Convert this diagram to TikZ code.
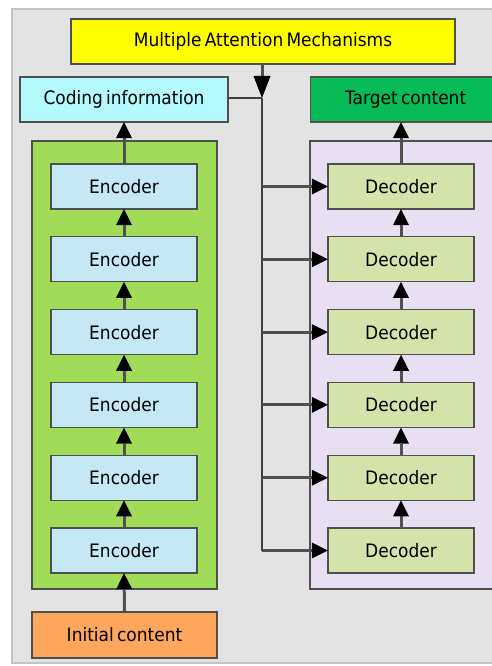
\documentclass[tikz,border=0pt]{standalone}
\usepackage{fontspec}
\setmainfont{DejaVu Sans}[FakeStretch=0.92,WordSpace=0.6]
\usetikzlibrary{arrows.meta}
\definecolor{panelgrey}{HTML}{E3E3E3}
\definecolor{paneledge}{HTML}{C4C4C4}
\definecolor{boxline}{HTML}{4F4F4F}
\definecolor{wireline}{HTML}{505050}
\definecolor{attnyellow}{HTML}{FFFF00}
\definecolor{codingcyan}{HTML}{B4FAFC}
\definecolor{targetgreen}{HTML}{07BB57}
\definecolor{encgroup}{HTML}{A0DC58}
\definecolor{decgroup}{HTML}{E8E0F2}
\definecolor{encfill}{HTML}{C4E9F4}
\definecolor{decfill}{HTML}{D3E3AA}
\definecolor{initorange}{HTML}{FEA75C}
\tikzset{
  box/.style={draw=boxline, line width=1.3pt, inner sep=0pt, font=\fontsize{18.5}{21}\selectfont},
  stage/.style={box, minimum width=146pt, minimum height=45pt},
  group/.style={draw=boxline, line width=1.3pt},
  wire/.style={draw=wireline, line width=3pt},
  flow/.style={wire, -{Triangle[length=16pt,width=16pt,color=black,line width=0pt]}, shorten >=-0.5pt},
}
\begin{document}
\begin{tikzpicture}[x=1pt, y=-1pt]
\useasboundingbox (0,0) rectangle (491,666);
% grey backdrop panel
\fill[white] (0,0) rectangle (491,666);
\filldraw[fill=panelgrey, draw=paneledge, line width=2pt] (12,9) rectangle (500,663);

% group containers
\filldraw[group, fill=encgroup] (32,141) rectangle (217,589);
\filldraw[group, fill=decgroup] (310,141) rectangle (500,589);

% top row
\node[box, fill=attnyellow, minimum width=384pt, minimum height=45pt] (attn) at (263,41.5) {Multiple Attention Mechanisms};
\node[box, fill=codingcyan, minimum width=208pt, minimum height=45pt] (coding) at (124,99.5) {Coding information};
\node[box, fill=targetgreen, minimum width=186pt, minimum height=45pt, anchor=west] (target) at (310,99.5) {\hspace*{-4pt}Target content\hspace*{-8pt}};

% encoder and decoder stacks
\foreach \k in {1,...,6} {
  \pgfmathsetmacro{\yy}{186.5+72.8*(\k-1)}
  \node[stage, fill=encfill] (enc\k) at (124,\yy) {Encoder};
  \node[stage, fill=decfill] (dec\k) at (401,\yy) {Decoder};
  \coordinate (tap\k) at (262,\yy);
}

\node[box, fill=initorange, minimum width=185pt, minimum height=46pt] (init) at (124.5,635) {Initial content};

% attention bus
\coordinate (merge) at (262,98);
\draw[wire, -{Triangle[length=22pt,width=17pt,color=black,line width=0pt]}] (attn.south -| merge) -- (merge);
\draw[wire, line width=2.2pt, draw=black!75] (coding.east |- merge) -- (merge);
\draw[wire, line width=2.2pt, draw=black!75] (merge) -- (tap6);
\foreach \k in {1,...,6} {
  \draw[flow] (tap\k) -- (dec\k.west);
}

% encoder chain
\draw[flow] (init.north) -- (enc6.south);
\foreach \a/\b in {6/5,5/4,4/3,3/2,2/1} {
  \draw[flow] (enc\a.north) -- (enc\b.south);
}
\draw[flow] (enc1.north) -- (coding.south);

% decoder chain
\foreach \a/\b in {6/5,5/4,4/3,3/2,2/1} {
  \draw[flow] (dec\a.north) -- (dec\b.south);
}
\draw[flow] (dec1.north) -- (dec1.north |- target.south);
\end{tikzpicture}
\end{document}
